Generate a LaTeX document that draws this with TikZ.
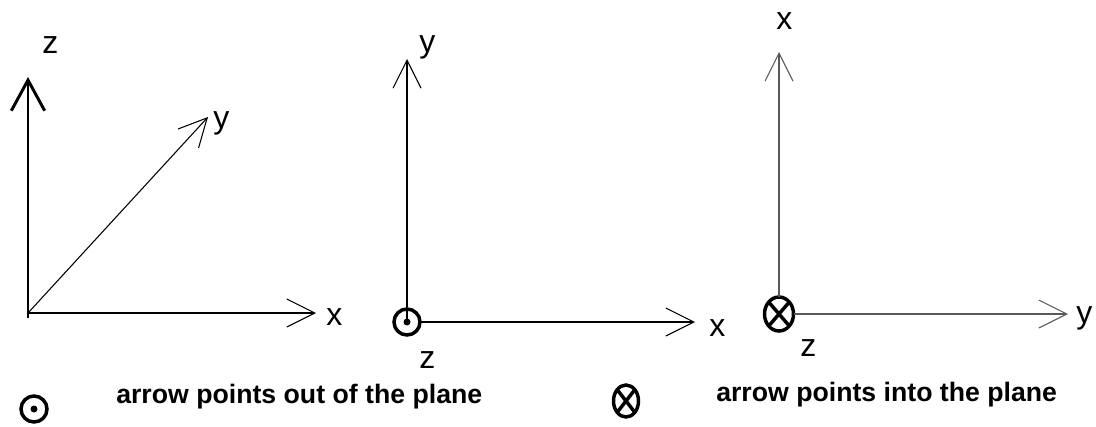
\documentclass[tikz,border=0pt]{standalone}
\usepackage{fontspec}
\setmainfont{Liberation Sans}
\usetikzlibrary{arrows.meta,calc}
\tikzset{
  axisline/.style={line width=0.8pt,-{Straight Barb[length=21pt,width=21pt]}},
  axislbl/.style={anchor=base west,inner sep=0pt,font=\fontsize{24}{28}\selectfont},
  legendtxt/.style={anchor=base west,inner sep=0pt,font=\bfseries\fontsize{20}{24}\selectfont},
  planesym/.style={line width=2.6pt},
}

\begin{document}
\begin{tikzpicture}[x=0.75pt,y=-0.75pt]
\useasboundingbox (0,0) rectangle (1096,426);
% left panel: perspective view
\coordinate (o1) at (28,313); \coordinate (b1) at (28,318);
\coordinate (z1) at (28,77); \coordinate (x1) at (316,313); \coordinate (y1) at (208,117);
\draw[line width=2.2pt,-{Straight Barb[length=23pt,width=25pt]}] (b1) -- (z1);
\draw[axisline] (o1) -- (x1);
\draw[axisline] (o1) -- (y1);
\node[axislbl] (lz1) at (42,53) {z};
\node[axislbl] (lx1) at (326,325) {x};
\node[axislbl] (ly1) at (213,128) {y};
% middle panel: z out of the plane
\coordinate (o2) at (407,322); \coordinate (e2) at (420,322);
\coordinate (y2) at (407,59); \coordinate (x2) at (695,322);
\draw[planesym] (o2) circle[radius=13];
\fill (o2) circle[radius=3.5];
\draw[axisline] (o2) -- (y2);
\draw[axisline] (e2) -- (x2);
\node[axislbl] (ly2) at (419,52) {y};
\node[axislbl] (lx2) at (709,336) {x};
\node[axislbl] (lz2) at (419,368) {z};
% right panel: z into the plane
\coordinate (o3) at (779,314); \coordinate (t3) at (779,297); \coordinate (e3) at (794,314);
\coordinate (x3) at (779,52); \coordinate (y3) at (1068,314);
\draw[planesym] (o3) ellipse[x radius=14.5,y radius=17];
\draw[planesym] ($(o3)+(-10.3,-12)$) -- ($(o3)+(10.3,12)$) ($(o3)+(-10.3,12)$) -- ($(o3)+(10.3,-12)$);
\draw[axisline,black!65] (t3) -- (x3);
\draw[axisline,black!65] (e3) -- (y3);
\node[axislbl] (lx3) at (776,29) {x};
\node[axislbl] (ly3) at (1076,323) {y};
\node[axislbl] (lz3) at (800,356) {z};
% legend
\coordinate (s1) at (34,409); \coordinate (s2) at (626,401);
\draw[planesym] (s1) circle[radius=13];
\fill (s1) circle[radius=3.5];
\node[legendtxt] (t1) at (116,403) {arrow points out of the plane};
\draw[planesym] (s2) ellipse[x radius=12.5,y radius=16];
\draw[planesym] ($(s2)+(-8.8,-11.3)$) -- ($(s2)+(8.8,11.3)$) ($(s2)+(-8.8,11.3)$) -- ($(s2)+(8.8,-11.3)$);
\node[legendtxt] (t2) at (716,401) {arrow points into the plane};
\end{tikzpicture}
\end{document}
